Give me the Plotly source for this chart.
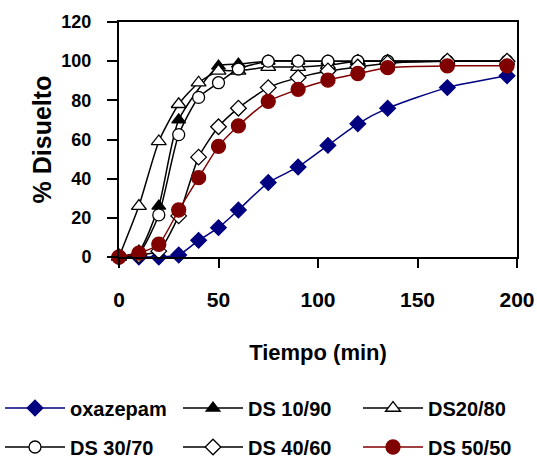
import plotly.graph_objects as go

tiempo = [0, 10, 20, 30, 40, 50, 60, 75, 90, 105, 120, 135, 165, 195]
tiempo_10_90 = [0, 10, 20, 30, 50, 60, 75, 90, 105, 120, 135, 165, 195]

oxazepam = [0, 0, 0, 1, 8.5, 15, 24, 38, 46, 57, 68, 76, 86.5, 92.5]
ds_10_90 = [0, 3, 26, 70, 97.5, 98.5, 100, 100, 100, 100, 100, 100, 100]
ds_20_80 = [0, 26, 59, 78, 89, 95, 95, 97, 97, 98, 100, 100, 100, 100]
ds_30_70 = [0, 2, 21.5, 62.5, 81.5, 89, 96, 100, 100, 100, 100, 100, 100, 100]
ds_40_60 = [0, 1, 3, 21, 51, 66.5, 76, 86.5, 91.6, 95, 97, 99, 100, 100]
ds_50_50 = [0, 2, 6.5, 24, 40.5, 56.5, 67, 79.5, 85.6, 90.3, 93.7, 96.7, 97.6, 97.6]

x_ticks = [0, 50, 100, 150, 200]
y_ticks = [0, 20, 40, 60, 80, 100, 120]

FONT = "Liberation Sans, Arial"
W, H = 537, 462

series = [
    ("oxazepam", tiempo, oxazepam, "#000080", "diamond", "#000080", 12),
    ("DS 10/90", tiempo_10_90, ds_10_90, "#000000", "triangle-up", "#000000", 12),
    ("DS20/80", tiempo, ds_20_80, "#000000", "triangle-up", "#ffffff", 13),
    ("DS 30/70", tiempo, ds_30_70, "#000000", "circle", "#ffffff", 12),
    ("DS 40/60", tiempo, ds_40_60, "#000000", "diamond", "#ffffff", 12),
    ("DS 50/50", tiempo, ds_50_50, "#800000", "circle", "#800000", 14),
]

# legend slot positions (container pixels): left edge, row centre
legend_cols = [0, 178, 358]
legend_rows = [408, 447]

fig = go.Figure()
legend_layouts = {}
for i, (name, xs, ys, lc, sym, fc, sz) in enumerate(series):
    lg = "legend" if i == 0 else f"legend{i + 1}"
    fig.add_trace(go.Scatter(
        x=xs, y=ys, name=name, mode="lines+markers", legend=lg,
        line=dict(color=lc, width=1.5, shape="spline", smoothing=0.6),
        marker=dict(symbol=sym, size=sz, color=fc,
                    line=dict(color=lc, width=1.3)),
        cliponaxis=False,
    ))
    legend_layouts[lg] = dict(
        orientation="h", xref="container", yref="container",
        x=legend_cols[i % 3] / W, xanchor="left",
        y=1 - legend_rows[i // 3] / H, yanchor="middle",
        itemwidth=60,
        font=dict(family=FONT, size=20, color="black", weight="bold"),
        bgcolor="rgba(0,0,0,0)", borderwidth=0,
    )

fig.update_layout(
    width=W, height=H,
    margin=dict(l=119, r=20, t=22, b=205),
    paper_bgcolor="white", plot_bgcolor="white",
    font=dict(family=FONT, size=20, color="black", weight="bold"),
    showlegend=True,
    xaxis=dict(
        range=[0, 200], tickvals=x_ticks, ticktext=[str(v) for v in x_ticks],
        showgrid=False, zeroline=False, showline=True, linecolor="black",
        linewidth=2, mirror=True, ticks="outside", ticklen=9, tickwidth=2,
        tickcolor="black", ticklabelstandoff=14, automargin=False,
        tickfont=dict(family=FONT, size=21, weight="bold"),
        title=dict(text="Tiempo (min)", standoff=34,
                   font=dict(family=FONT, size=22, weight="bold")),
    ),
    yaxis=dict(
        range=[0, 120], tickvals=y_ticks, ticktext=[str(v) for v in y_ticks],
        showgrid=False, zeroline=False, showline=True, linecolor="black",
        linewidth=2, mirror=True, ticks="outside", ticklen=10, tickwidth=2,
        tickcolor="black", ticklabelstandoff=12, automargin=False,
        tickfont=dict(family=FONT, size=18, weight="bold"),
        title=dict(text="% Disuelto", standoff=3,
                   font=dict(family=FONT, size=25, weight="bold")),
    ),
    **legend_layouts,
)

fig.write_html("out.html", config={"displayModeBar": False},
               post_script="document.body.style.margin='0';")
